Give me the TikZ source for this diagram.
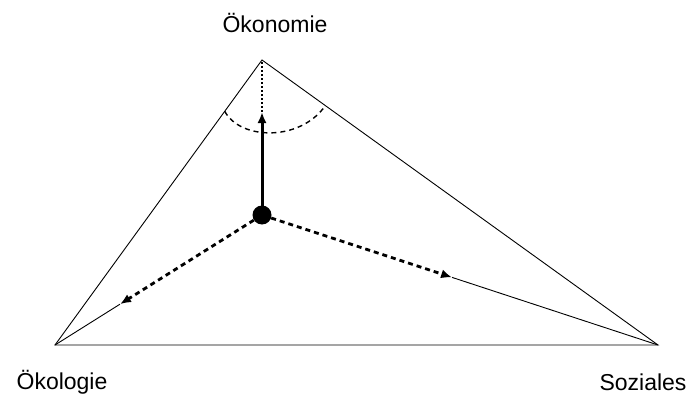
\documentclass[tikz,border=0pt]{standalone}
\usepackage{fontspec}
\setmainfont{Liberation Sans}
\usetikzlibrary{positioning, calc, arrows.meta}

\begin{document}
\begin{tikzpicture}[
            x=1pt, y=-1pt,
            edge/.style={line width=0.9pt},
            label/.style={font=\fontsize{23}{27}\selectfont, inner sep=0pt},
            push/.style={-{Latex[length=11pt, width=9pt, sep=0pt]}, line width=2.8pt, dash pattern=on 5pt off 4pt},
            rise/.style={-{Latex[length=11pt, width=9pt]}, line width=3pt},
            guide/.style={line width=1.2pt, dash pattern=on 2pt off 2pt},
            angle/.style={line width=1.4pt, dash pattern=on 5pt off 4pt}
        ]
            \useasboundingbox (0,0) rectangle (694,396);

            % 頂点と中心の定義
            \coordinate (oek) at (262,60);
            \coordinate (eko) at (55,345);
            \coordinate (soz) at (658,345);
            \node[circle, fill=black, inner sep=0pt, minimum size=19pt] (mid) at (262,215) {};

            % ラベル
            \node[label] (toplabel) at (275,23) {Ökonomie};
            \node[label] (leftlabel) at (62,382) {Ökologie};
            \node[label] (rightlabel) at (643,382) {Soziales};

            % 三角形
            \draw[edge] (oek) -- (soz) -- (eko) -- cycle;

            % 中心からのベクトル
            \coordinate (uptip) at (262,112);
            \coordinate (lefttip) at ($(mid.center)!0.686!(eko)$);
            \coordinate (righttip) at ($(mid.center)!0.48!(soz)$);
            \draw[rise] (mid.center) -- (uptip);
            \draw[push] (mid) -- (lefttip);
            \draw[push] (mid) -- (righttip);
            \draw[edge] (lefttip) -- (eko);
            \draw[edge] (righttip) -- (soz);
            \draw[guide] (uptip) -- (oek);

            % 角度の弧
            \coordinate (arcl) at ($(oek)!0.18!(eko)$);
            \coordinate (arcr) at ($(oek)!0.16!(soz)$);
            \draw[angle] (arcl) .. controls (240,140) and (300,142) .. (arcr);
          \end{tikzpicture}
\end{document}
